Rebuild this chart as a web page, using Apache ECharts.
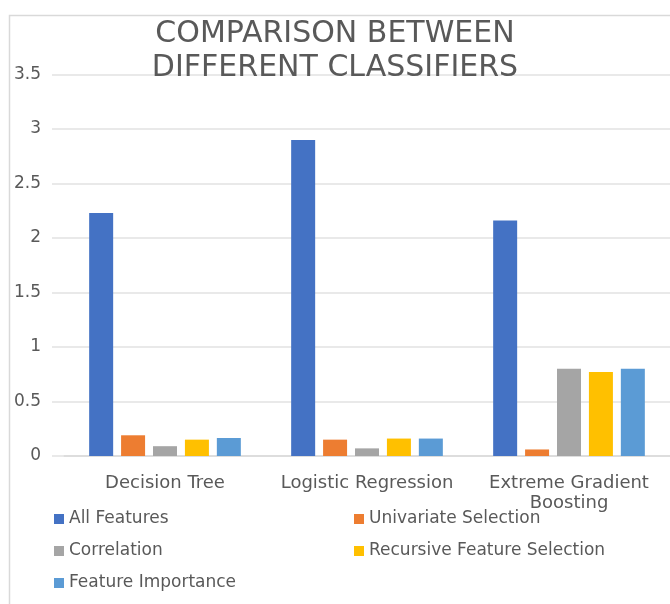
<!DOCTYPE html>
<html>
<head>
<meta charset="utf-8">
<title>Comparison Between Different Classifiers</title>
<script src="https://cdn.jsdelivr.net/npm/echarts@6/dist/echarts.min.js"></script>
<style>
  html, body { margin: 0; padding: 0; background: #ffffff; }
  #chart { width: 670px; height: 604px; }
</style>
</head>
<body>
<div id="chart"></div>
<script>
// Classifiers compared on the x axis
var classifiers = ['Decision Tree', 'Logistic Regression', 'Extreme Gradient\nBoosting'];

// One series per feature-selection strategy
var allFeatures = [2.23, 2.90, 2.16];
var univariateSelection = [0.19, 0.15, 0.06];
var correlation = [0.09, 0.07, 0.80];
var recursiveFeatureSelection = [0.15, 0.16, 0.77];
var featureImportance = [0.165, 0.16, 0.80];

var seriesNames = ['All Features', 'Univariate Selection', 'Correlation',
                   'Recursive Feature Selection', 'Feature Importance'];
var seriesValues = [allFeatures, univariateSelection, correlation,
                    recursiveFeatureSelection, featureImportance];
var seriesColors = ['#4472C4', '#ED7D31', '#A5A5A5', '#FFC000', '#5B9BD5'];

// Value axis ticks
var yMin = 0, yMax = 3.5, yStep = 0.5;

var FONT = "'DejaVu Sans', sans-serif";
var TEXT = '#595959';
var GRID_LINE = '#e2e2e2';

var chart = echarts.init(document.getElementById('chart'), null, { renderer: 'canvas' });

var series = seriesNames.map(function (name, i) {
  return {
    name: name,
    type: 'bar',
    data: seriesValues[i],
    barWidth: 24,
    barGap: '33%',
    itemStyle: { color: seriesColors[i] }
  };
});

var legendText = { fontFamily: FONT, fontSize: 17, color: TEXT, lineHeight: 18 };

var option = {
  animation: false,
  backgroundColor: '#ffffff',
  textStyle: { fontFamily: FONT },
  graphic: [{
    // outer chart frame
    type: 'rect',
    left: 7, top: 13,
    shape: { width: 720, height: 640 },
    style: { fill: 'none', stroke: '#d9d9d9', lineWidth: 1.5 },
    silent: true,
    z: -1
  }],
  title: {
    text: 'COMPARISON BETWEEN\nDIFFERENT CLASSIFIERS',
    left: 'center',
    top: 12,
    padding: [5, 5, 5, 13],
    textStyle: {
      fontFamily: FONT,
      fontSize: 30,
      fontWeight: 'normal',
      lineHeight: 34,
      color: TEXT
    }
  },
  legend: [{
    data: ['All Features', 'Correlation', 'Feature Importance'],
    orient: 'vertical',
    left: 49,
    top: 505,
    icon: 'rect',
    itemWidth: 10,
    itemHeight: 10,
    itemGap: 14,
    textStyle: legendText
  }, {
    data: ['Univariate Selection', 'Recursive Feature Selection'],
    orient: 'vertical',
    left: 349,
    top: 505,
    icon: 'rect',
    itemWidth: 10,
    itemHeight: 10,
    itemGap: 14,
    textStyle: legendText
  }],
  grid: {
    left: 64,
    right: -6,
    top: 74.5,
    bottom: 148
  },
  xAxis: {
    type: 'category',
    data: classifiers,
    axisLine: { show: true, lineStyle: { color: '#d9d9d9', width: 1.5 } },
    axisTick: { show: false },
    axisLabel: {
      margin: 17,
      fontFamily: FONT,
      fontSize: 18,
      lineHeight: 20,
      color: TEXT,
      interval: 0
    }
  },
  yAxis: {
    type: 'value',
    min: yMin,
    max: yMax,
    interval: yStep,
    axisLine: { show: false },
    axisTick: { show: true, length: 12, lineStyle: { color: GRID_LINE, width: 1.5 } },
    splitLine: { show: true, lineStyle: { color: GRID_LINE, width: 1.5 } },
    axisLabel: {
      margin: 23,
      fontFamily: FONT,
      fontSize: 17,
      color: TEXT,
      formatter: function (v) { return String(v); }
    }
  },
  series: series
};

chart.setOption(option);
</script>
</body>
</html>
